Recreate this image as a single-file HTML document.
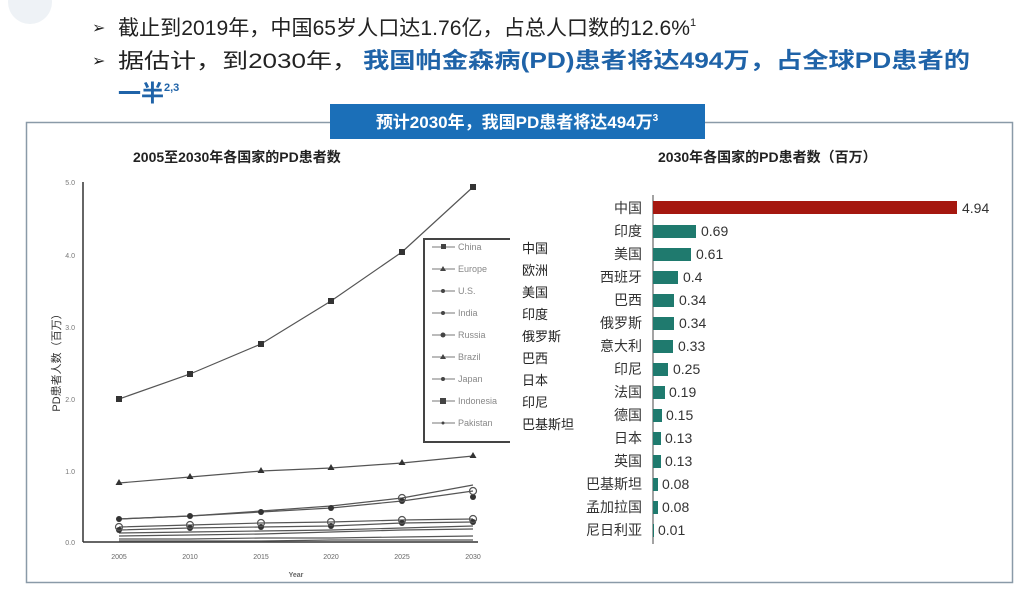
<!DOCTYPE html>
<html><head><meta charset="utf-8"><style>
body{margin:0;background:#fff;}
svg{display:block;}
</style></head><body>
<svg width="1032" height="603" xmlns="http://www.w3.org/2000/svg" font-family="Liberation Sans, Noto Sans CJK SC, sans-serif">
<rect width="1032" height="603" fill="#fff"/>
<circle cx="30" cy="2" r="22" fill="#eef2f6"/>
<!-- top text -->
<g font-size="21" fill="#222">
<text x="92" y="33" font-size="16">➢</text>
<text x="118" y="35" textLength="572" lengthAdjust="spacingAndGlyphs">截止到2019年，中国65岁人口达1.76亿，占总人口数的12.6%</text>
<text x="690" y="26" font-size="11">1</text>
<text x="92" y="66" font-size="16">➢</text>
<text x="118" y="68" textLength="240" lengthAdjust="spacingAndGlyphs">据估计，到2030年，</text>
<text x="363" y="68" fill="#1f63a8" font-weight="bold" font-size="22" textLength="607" lengthAdjust="spacingAndGlyphs">我国帕金森病(PD)患者将达494万，占全球PD患者的</text>
<text x="118" y="101" fill="#1f63a8" font-weight="bold" font-size="23">一半<tspan font-size="11" dy="-10">2,3</tspan></text>
</g>
<!-- box -->
<rect x="26.5" y="122.5" width="986" height="460" fill="none" stroke="#8a9aa8" stroke-width="1.5"/>
<rect x="330" y="104" width="375" height="35" fill="#1b6fb8"/>
<text x="517" y="128" font-size="17" font-weight="bold" fill="#fff" text-anchor="middle">预计2030年，我国PD患者将达494万<tspan font-size="10" dy="-7">3</tspan></text>
<text x="133" y="162" font-size="14" font-weight="bold" fill="#222">2005至2030年各国家的PD患者数</text>
<text x="658" y="162" font-size="14" font-weight="bold" fill="#222">2030年各国家的PD患者数（百万）</text>

<!-- line chart axes -->
<g stroke="#333" stroke-width="1.5">
<line x1="83" y1="182" x2="83" y2="542"/>
<line x1="83" y1="542" x2="478" y2="542"/>
</g>
<g font-size="7" fill="#777" text-anchor="end">
<text x="75" y="185">5.0</text><text x="75" y="258">4.0</text><text x="75" y="330">3.0</text>
<text x="75" y="402">2.0</text><text x="75" y="474">1.0</text><text x="75" y="545">0.0</text>
</g>
<g font-size="7" fill="#666" text-anchor="middle">
<text x="119" y="559">2005</text><text x="190" y="559">2010</text><text x="261" y="559">2015</text>
<text x="331" y="559">2020</text><text x="402" y="559">2025</text><text x="473" y="559">2030</text>
<text x="296" y="577" font-weight="bold">Year</text>
</g>
<text transform="translate(60,360) rotate(-90)" font-size="11" fill="#333" text-anchor="middle">PD患者人数（百万）</text>
<g fill="none" stroke="#555" stroke-width="1.2">
<polyline points="119,399 190,374 261,344 331,301 402,252 473,187"/>
<polyline points="119,483 190,477 261,471 331,468 402,463 473,456"/>
<polyline points="119,519 190,516 261,512 331,508 402,501 473,491"/>
<polyline points="119,519 190,516 261,511 331,506 402,498 473,485"/>
<polyline points="119,527 190,525 261,523 331,522 402,520 473,519"/>
<polyline points="119,530 190,528 261,527 331,526 402,523 473,522"/>
<polyline points="119,533 190,532 261,531 331,530 402,528 473,526"/>
<polyline points="119,536 190,535 261,534 331,532 402,530 473,529"/>
<polyline points="119,539 190,539 261,538 331,538 402,537 473,536"/>
<polyline points="119,541 190,541 261,541 331,540 402,540 473,540"/>
</g>
<g fill="#333">
<rect x="116" y="396" width="6" height="6"/><rect x="187" y="371" width="6" height="6"/><rect x="258" y="341" width="6" height="6"/><rect x="328" y="298" width="6" height="6"/><rect x="399" y="249" width="6" height="6"/><rect x="470" y="184" width="6" height="6"/>
<path d="M119,479l3.5,6h-7z M190,473l3.5,6h-7z M261,467l3.5,6h-7z M331,464l3.5,6h-7z M402,459l3.5,6h-7z M473,452l3.5,6h-7z"/>
<circle cx="119" cy="519" r="3"/><circle cx="190" cy="516" r="3"/><circle cx="261" cy="512" r="3"/><circle cx="331" cy="508" r="3"/><circle cx="402" cy="501" r="3"/><circle cx="473" cy="497" r="3"/>
<circle cx="119" cy="530" r="3"/><circle cx="190" cy="528" r="3"/><circle cx="261" cy="527" r="3"/><circle cx="331" cy="526" r="3"/><circle cx="402" cy="523" r="3"/><circle cx="473" cy="522" r="3"/>
</g>
<g fill="none" stroke="#555" stroke-width="1.2">
<circle cx="473" cy="491" r="3.5"/><circle cx="402" cy="498" r="3.5"/><circle cx="119" cy="527" r="3.5"/><circle cx="190" cy="525" r="3.5"/><circle cx="261" cy="523" r="3.5"/><circle cx="331" cy="522" r="3.5"/><circle cx="402" cy="520" r="3.5"/><circle cx="473" cy="519" r="3.5"/>
</g>
<!-- legend -->
<path d="M510,239 H424 V442 H510" fill="#fff" stroke="#444" stroke-width="2"/>
<g font-size="9" fill="#888">
<text x="458" y="250">China</text><text x="458" y="272">Europe</text><text x="458" y="294">U.S.</text>
<text x="458" y="316">India</text><text x="458" y="338">Russia</text><text x="458" y="360">Brazil</text>
<text x="458" y="382">Japan</text><text x="458" y="404">Indonesia</text><text x="458" y="426">Pakistan</text>
</g>
<g stroke="#777" stroke-width="1">
<line x1="432" y1="247" x2="455" y2="247"/><line x1="432" y1="269" x2="455" y2="269"/><line x1="432" y1="291" x2="455" y2="291"/>
<line x1="432" y1="313" x2="455" y2="313"/><line x1="432" y1="335" x2="455" y2="335"/><line x1="432" y1="357" x2="455" y2="357"/>
<line x1="432" y1="379" x2="455" y2="379"/><line x1="432" y1="401" x2="455" y2="401"/><line x1="432" y1="423" x2="455" y2="423"/>
</g>
<g fill="#444"><rect x="441" y="244" width="5" height="5"/><circle cx="443" cy="291" r="2"/><rect x="440" y="398" width="6" height="6"/><circle cx="443" cy="313" r="2"/><circle cx="443" cy="335" r="2.5"/><circle cx="443" cy="379" r="2"/><circle cx="443" cy="423" r="1.5"/>
<path d="M443,266l3,5h-6z M443,354l3,5h-6z"/></g>
<g font-size="13" fill="#222">
<text x="522" y="253">中国</text><text x="522" y="275">欧洲</text><text x="522" y="297">美国</text>
<text x="522" y="319">印度</text><text x="522" y="341">俄罗斯</text><text x="522" y="363">巴西</text>
<text x="522" y="385">日本</text><text x="522" y="407">印尼</text><text x="522" y="429">巴基斯坦</text>
</g>

<!-- bar chart -->
<line x1="653" y1="195" x2="653" y2="544" stroke="#666" stroke-width="1.2"/>
<rect x="653" y="201" width="304" height="13" fill="#a5170f"/>
<g fill="#1f7a6e">
<rect x="653" y="225" width="43" height="13"/><rect x="653" y="248" width="38" height="13"/><rect x="653" y="271" width="25" height="13"/>
<rect x="653" y="294" width="21" height="13"/><rect x="653" y="317" width="21" height="13"/><rect x="653" y="340" width="20" height="13"/>
<rect x="653" y="363" width="15" height="13"/><rect x="653" y="386" width="12" height="13"/><rect x="653" y="409" width="9" height="13"/>
<rect x="653" y="432" width="8" height="13"/><rect x="653" y="455" width="8" height="13"/><rect x="653" y="478" width="5" height="13"/>
<rect x="653" y="501" width="5" height="13"/><rect x="653" y="524" width="1" height="13"/>
</g>
<g font-size="14" fill="#333" text-anchor="end">
<text x="642" y="213">中国</text><text x="642" y="236">印度</text><text x="642" y="259">美国</text><text x="642" y="282">西班牙</text>
<text x="642" y="305">巴西</text><text x="642" y="328">俄罗斯</text><text x="642" y="351">意大利</text><text x="642" y="374">印尼</text>
<text x="642" y="397">法国</text><text x="642" y="420">德国</text><text x="642" y="443">日本</text><text x="642" y="466">英国</text>
<text x="642" y="489">巴基斯坦</text><text x="642" y="512">孟加拉国</text><text x="642" y="535">尼日利亚</text>
</g>
<g font-size="14" fill="#333">
<text x="962" y="213">4.94</text><text x="701" y="236">0.69</text><text x="696" y="259">0.61</text><text x="683" y="282">0.4</text>
<text x="679" y="305">0.34</text><text x="679" y="328">0.34</text><text x="678" y="351">0.33</text><text x="673" y="374">0.25</text>
<text x="669" y="397">0.19</text><text x="666" y="420">0.15</text><text x="665" y="443">0.13</text><text x="665" y="466">0.13</text>
<text x="662" y="489">0.08</text><text x="662" y="512">0.08</text><text x="658" y="535">0.01</text>
</g>
</svg>
</body></html>
